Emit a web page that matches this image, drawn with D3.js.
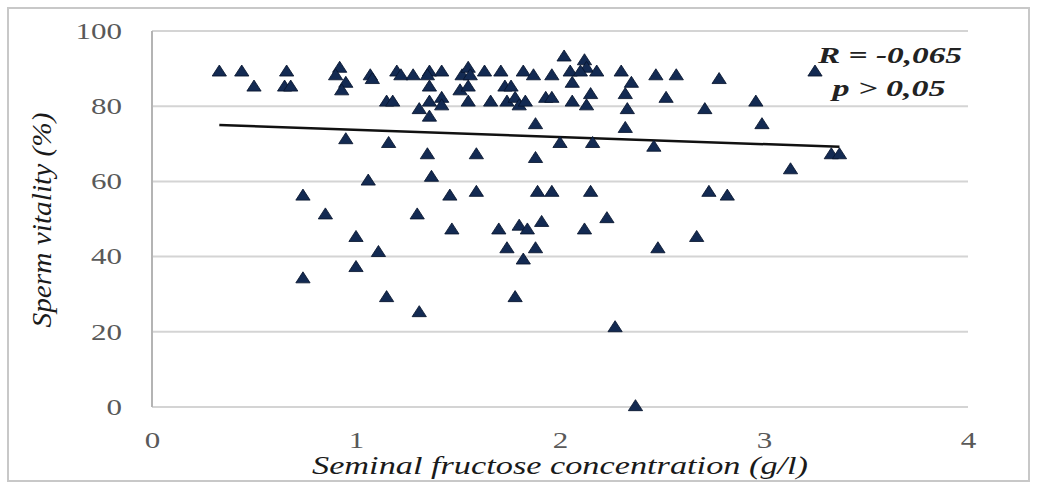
<!DOCTYPE html>
<html>
<head>
<meta charset="utf-8">
<script src="https://cdn.jsdelivr.net/npm/d3@7.9.0/dist/d3.min.js"></script>
<style>
  body { margin: 0; background: #fff; }
  svg { display: block; }
  svg text { font-family: "Liberation Serif", Tinos, "Times New Roman", Times, serif; }
</style>
</head>
<body>
<svg id="chart" width="1037" height="487"></svg>
<script>
// seminal fructose (g/l) and sperm vitality (%) for each patient
const fructose = [
  0.33, 0.44, 0.50, 0.66, 0.65, 0.68, 0.92, 0.90, 0.95, 0.93,
  1.07, 1.08, 1.20, 1.15, 1.18, 0.95, 1.16, 1.22, 1.28, 1.36,
  1.35, 1.42, 1.36, 1.36, 1.42, 1.31, 1.42, 1.36, 1.52, 1.55,
  1.56, 1.63, 1.51, 1.55, 1.55, 1.66, 1.71, 1.73, 1.76, 1.74,
  1.78, 1.80, 1.83, 1.82, 1.87, 1.93, 1.96, 1.88, 1.96, 2.02,
  2.05, 2.06, 2.06, 2.12, 2.13, 2.10, 2.18, 2.15, 2.13, 2.00,
  2.16, 2.30, 2.35, 2.32, 2.33, 2.32, 2.47, 2.57, 2.52, 2.46,
  2.78, 2.71, 2.96, 2.99, 3.25, 3.33, 3.37, 3.13, 2.73, 2.82,
  1.35, 1.59, 1.88, 1.06, 1.37, 0.74, 1.46, 1.59, 1.89, 1.96,
  2.15, 0.85, 1.30, 1.47, 1.70, 1.80, 1.84, 1.91, 2.12, 2.23,
  1.00, 1.11, 1.74, 1.88, 1.82, 2.48, 2.67, 1.00, 0.74, 1.15,
  1.78, 1.31, 2.27, 2.37
];
const vitality = [
  89, 89, 85, 89, 85, 85, 90, 88, 86, 84,
  88, 87, 89, 81, 81, 71, 70, 88, 88, 89,
  88, 89, 85, 81, 82, 79, 80, 77, 88, 90,
  88, 89, 84, 85, 81, 81, 89, 85, 85, 81,
  82, 80, 81, 89, 88, 82, 82, 75, 88, 93,
  89, 86, 81, 92, 90, 89, 89, 83, 80, 70,
  70, 89, 86, 83, 79, 74, 88, 88, 82, 69,
  87, 79, 81, 75, 89, 67, 67, 63, 57, 56,
  67, 67, 66, 60, 61, 56, 56, 57, 57, 57,
  57, 51, 51, 47, 47, 48, 47, 49, 47, 50,
  45, 41, 42, 42, 39, 42, 45, 37, 34, 29,
  29, 25, 21, 0
];
const xTicks = [0, 1, 2, 3, 4];
const yTicks = [0, 20, 40, 60, 80, 100];
// linear trend line end points
const trendX = [0.33, 3.37];
const trendY = [75.0, 69.2];
const statLines = ["R = -0,065", "p > 0,05"];

const svg = d3.select("#chart");
const W = 1037, H = 487;
const m = { left: 152, right: 69, top: 31, bottom: 80 };

const x = d3.scaleLinear().domain([0, 4]).range([m.left, W - m.right]);
const y = d3.scaleLinear().domain([0, 100]).range([H - m.bottom, m.top]);

// light frame round the whole picture
svg.append("rect")
  .attr("x", 8).attr("y", 8)
  .attr("width", W - 16).attr("height", H - 14)
  .attr("fill", "none")
  .attr("stroke", "#c8c8c8")
  .attr("stroke-width", 2);

// horizontal gridlines
svg.append("g")
  .selectAll("line")
  .data(yTicks)
  .join("line")
  .attr("x1", x(0)).attr("x2", x(4))
  .attr("y1", d => y(d)).attr("y2", d => y(d))
  .attr("stroke", "#d4d4d4")
  .attr("stroke-width", 2);

// left axis line
svg.append("line")
  .attr("x1", x(0)).attr("x2", x(0))
  .attr("y1", y(0)).attr("y2", y(100))
  .attr("stroke", "#b4b4b4")
  .attr("stroke-width", 2);

let yAxis = svg.append("g")
  .attr("transform", `translate(${m.left},0)`)
  .call(d3.axisLeft(y).tickValues(yTicks).tickSize(0).tickPadding(30));
yAxis.select(".domain").remove();
yAxis.attr("font-family", null);
yAxis.selectAll("text")
  .attr("x", 0)
  .attr("transform", "translate(-30,0) scale(1.35,1)")
  .attr("font-size", 23)
  .attr("fill", "#595959");

let xAxis = svg.append("g")
  .attr("transform", `translate(0,${y(0)})`)
  .call(d3.axisBottom(x).tickValues(xTicks).tickSize(0).tickPadding(25).tickFormat(d3.format("d")));
xAxis.select(".domain").remove();
xAxis.attr("font-family", null);
xAxis.selectAll("text")
  .attr("transform", "scale(1.35,1)")
  .attr("font-size", 23)
  .attr("fill", "#595959");

// trend line
let trend = trendX.map((v, i) => [v, trendY[i]]);
svg.append("path")
  .datum(trend)
  .attr("d", d3.line().x(d => x(d[0])).y(d => y(d[1])))
  .attr("fill", "none")
  .attr("stroke", "#111")
  .attr("stroke-width", 2.5);

// triangle markers
let tri = d3.symbol().type(d3.symbolTriangle).size(70);
svg.append("g")
  .selectAll("path")
  .data(fructose.map((v, i) => ({ fx: v, vit: vitality[i] })))
  .join("path")
  .attr("d", tri)
  .attr("transform", d => `translate(${x(d.fx)},${y(d.vit)}) scale(1.12,1)`)
  .attr("fill", "#132a52")
  .attr("stroke", "#08152e")
  .attr("stroke-width", 0.8);

// R / p annotation
svg.append("g")
  .selectAll("text")
  .data(statLines)
  .join("text")
  .attr("x", (d, i) => i === 0 ? 890 : 889)
  .attr("y", (d, i) => 63 + i * 33)
  .attr("text-anchor", "middle")
  .attr("font-style", "italic")
  .attr("font-weight", "bold")
  .attr("font-size", 24)
  .attr("fill", "#222")
  .attr("textLength", (d, i) => i === 0 ? 144 : 113)
  .attr("lengthAdjust", "spacingAndGlyphs")
  .text(d => d);

// axis titles
svg.append("text")
  .attr("x", (x(0) + x(4)) / 2)
  .attr("y", 474)
  .attr("text-anchor", "middle")
  .attr("font-style", "italic")
  .attr("font-size", 25)
  .attr("fill", "#1a1a1a")
  .attr("textLength", 496)
  .attr("lengthAdjust", "spacingAndGlyphs")
  .text("Seminal fructose concentration (g/l)");

svg.append("text")
  .attr("transform", `translate(51,220) rotate(-90)`)
  .attr("text-anchor", "middle")
  .attr("font-style", "italic")
  .attr("font-size", 27)
  .attr("fill", "#1a1a1a")
  .attr("textLength", 215)
  .attr("lengthAdjust", "spacingAndGlyphs")
  .text("Sperm vitality (%)");
</script>
</body>
</html>
